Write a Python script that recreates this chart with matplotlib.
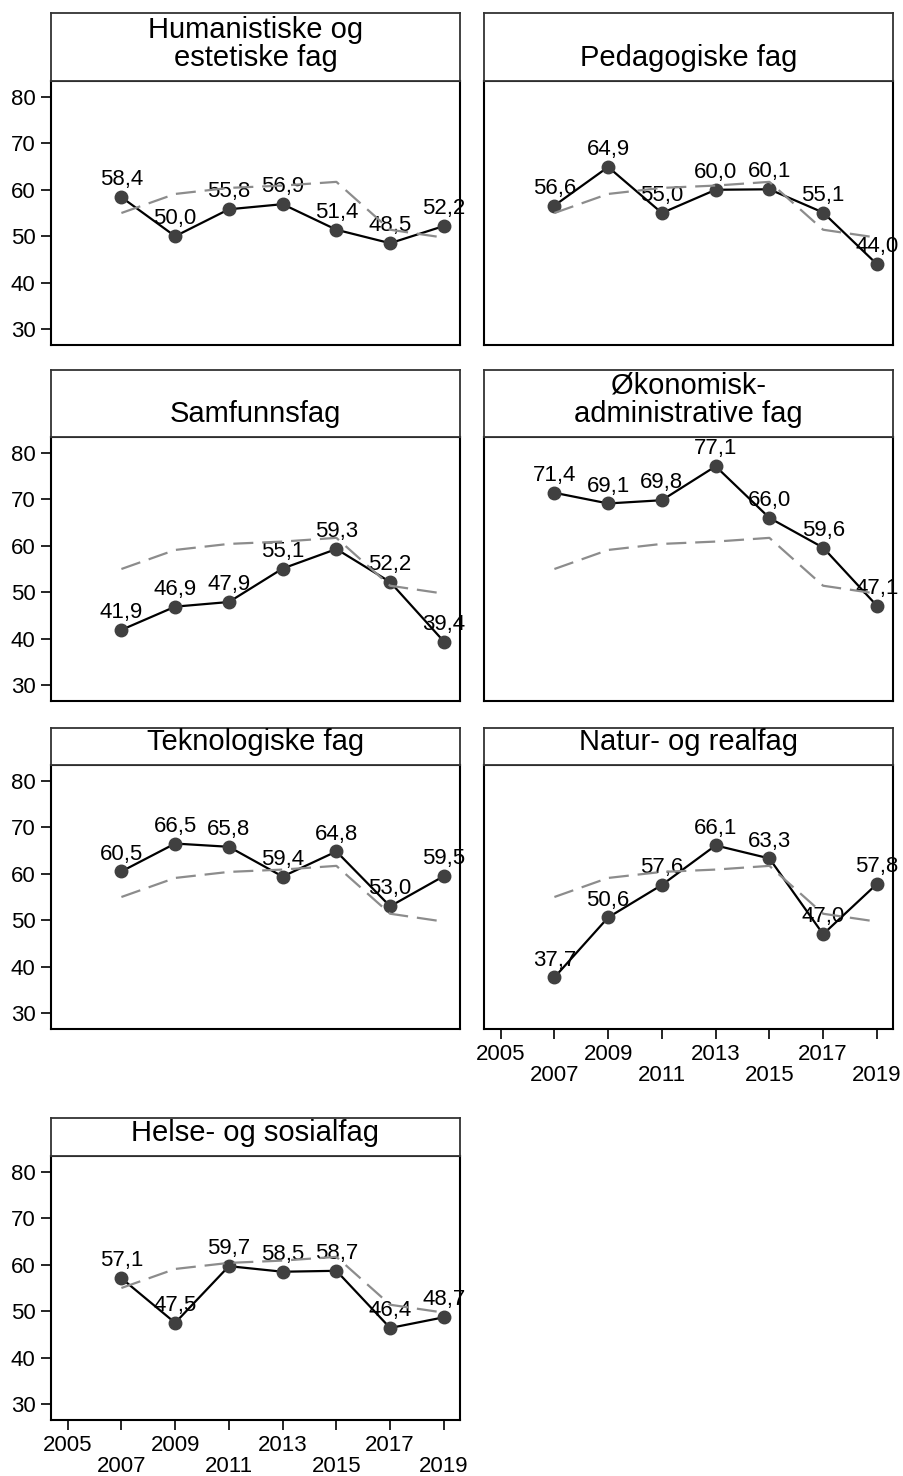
import matplotlib.pyplot as plt

plt.rcParams['font.family'] = ['Liberation Sans', 'DejaVu Sans']

years = [2007, 2009, 2011, 2013, 2015, 2017, 2019]
reference = [55.0, 59.1, 60.4, 60.9, 61.7, 51.4, 49.7]

titles = ["Humanistiske og\nestetiske fag", "Pedagogiske fag",
          "Samfunnsfag", "Økonomisk-\nadministrative fag",
          "Teknologiske fag", "Natur- og realfag",
          "Helse- og sosialfag"]

humanistiske = [58.4, 50.0, 55.8, 56.9, 51.4, 48.5, 52.2]
pedagogiske = [56.6, 64.9, 55.0, 60.0, 60.1, 55.1, 44.0]
samfunnsfag = [41.9, 46.9, 47.9, 55.1, 59.3, 52.2, 39.4]
okonomisk = [71.4, 69.1, 69.8, 77.1, 66.0, 59.6, 47.1]
teknologiske = [60.5, 66.5, 65.8, 59.4, 64.8, 53.0, 59.5]
natur = [37.7, 50.6, 57.6, 66.1, 63.3, 47.0, 57.8]
helse = [57.1, 47.5, 59.7, 58.5, 58.7, 46.4, 48.7]

series = [humanistiske, pedagogiske, samfunnsfag, okonomisk,
          teknologiske, natur, helse]

xticks = [2005, 2007, 2009, 2011, 2013, 2015, 2017, 2019]
xticklabels = [str(y) if i % 2 == 0 else '\n' + str(y) for i, y in enumerate(xticks)]
yticks = [30, 40, 50, 60, 70, 80]

W, H = 904, 1476
fig = plt.figure(figsize=(W / 100, H / 100), dpi=100)

# layout in pixels
col_left = [51, 484]
col_w = 409
plot_top = [81, 437, 765, 1156]
plot_h = 264
strip_h = [68, 67, 37, 38]

def px_axes(x, y_top, w, h):
    return fig.add_axes([x / W, 1 - (y_top + h) / H, w / W, h / H])

for k, (title, vals) in enumerate(zip(titles, series)):
    row, col = divmod(k, 2)
    x0 = col_left[col]
    top = plot_top[row]

    ax = px_axes(x0, top, col_w, plot_h)
    ax.plot(years, reference, color='#8c8c8c', lw=1.6,
            linestyle=(0, (9, 4)), zorder=4)
    ax.plot(years, vals, color='black', lw=1.6, zorder=2)
    ax.plot(years, vals, 'o', color='#404040', ms=9, zorder=3)
    for x, v in zip(years, vals):
        ax.annotate('{:.1f}'.format(v).replace('.', ','), (x, v),
                    xytext=(0, 8.5), textcoords='offset points',
                    ha='center', va='baseline', fontsize=16, zorder=3)

    ax.set_xlim(2004.38, 2019.6)
    ax.set_ylim(26.6, 83.4)
    for s in ax.spines.values():
        s.set_linewidth(1.5)
        s.set_color('black')

    has_below = k + 2 < len(titles)
    if has_below:
        ax.set_xticks([])
    else:
        ax.set_xticks(xticks)
        ax.set_xticklabels(xticklabels, fontsize=16, linespacing=1.0)
        ax.tick_params(axis='x', length=7, width=1.2, pad=4)
    if col == 0:
        ax.set_yticks(yticks)
        ax.set_yticklabels([str(t) for t in yticks], fontsize=16)
        ax.tick_params(axis='y', length=7, width=1.2, pad=4)
    else:
        ax.set_yticks([])

    # title strip
    sh = strip_h[row]
    sax = px_axes(x0, top - sh, col_w, sh)
    sax.set_xticks([])
    sax.set_yticks([])
    sax.set_xlim(0, 1)
    sax.set_ylim(0, sh)
    for s in sax.spines.values():
        s.set_linewidth(1.3)
        s.set_color('#333333')
    sax.text(0.5, 9, title, ha='center', va='bottom', fontsize=21,
             linespacing=1.0, clip_on=False)

fig.savefig('out.png', dpi=100)
